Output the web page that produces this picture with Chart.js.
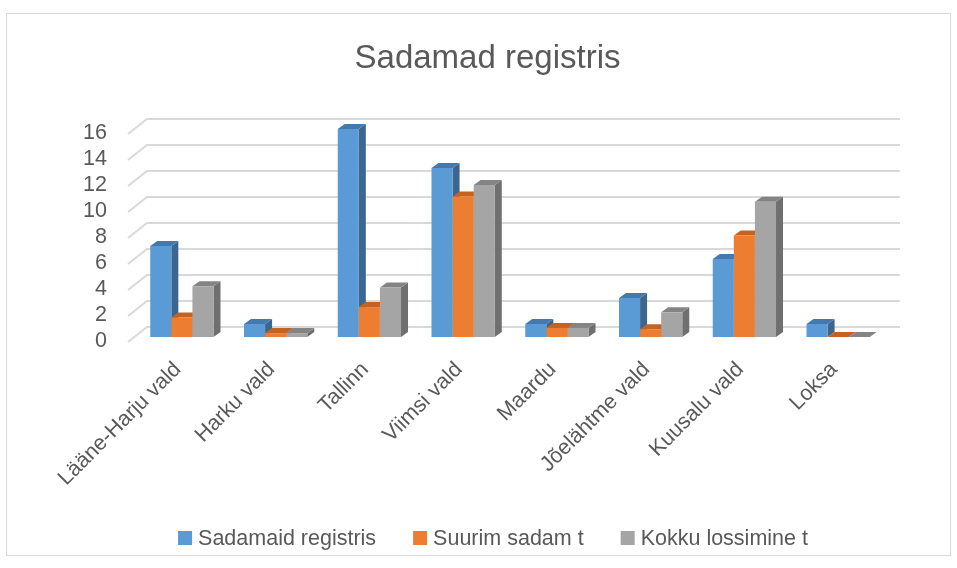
<!DOCTYPE html>
<html><head><meta charset="utf-8">
<script src="https://cdn.jsdelivr.net/npm/chart.js@4.4.1/dist/chart.umd.min.js"></script>
<style>html,body{margin:0;padding:0;background:#fff;} canvas{display:block;}</style>
</head><body>
<canvas id="c" width="957" height="568"></canvas>
<script>
const chartTitle = 'Sadamad registris';
const categories = ['Lääne-Harju vald','Harku vald','Tallinn','Viimsi vald','Maardu','Jõelähtme vald','Kuusalu vald','Loksa'];
const seriesNames = ['Sadamaid registris','Suurim sadam t','Kokku lossimine t'];
const sadamaidRegistris = [7, 1, 16, 13, 1, 3, 6, 1];
const suurimSadam = [1.5, 0.3, 2.3, 10.8, 0.7, 0.6, 7.8, 0];
const kokkuLossimine = [3.9, 0.3, 3.8, 11.7, 0.7, 1.9, 10.4, 0];
const yTicks = [0, 2, 4, 6, 8, 10, 12, 14, 16];

const FONT = "'Liberation Sans', Arial, sans-serif";
const TEXT = '#595959';
const frontCol = ['#5b9bd5', '#ed7d31', '#a5a5a5'];
const topCol = ['#4479ad', '#c4621f', '#848484'];
const sideCol = ['#3c6690', '#b05a1f', '#6f6f6f'];
const DX = 7, DY = -5;

const threeD = {
  id: 'threeD',
  beforeDraw(chart) {
    const ctx = chart.ctx;
    ctx.save();
    ctx.fillStyle = '#fff';
    ctx.fillRect(0, 0, chart.width, chart.height);
    ctx.strokeStyle = '#d9d9d9';
    ctx.lineWidth = 1;
    ctx.strokeRect(6.5, 13.5, 944, 542);
    ctx.restore();
  },
  beforeDatasetsDraw(chart) {
    const ctx = chart.ctx;
    const ys = chart.scales.y;
    const a = chart.chartArea;
    ctx.save();
    ctx.strokeStyle = '#d9d9d9';
    ctx.lineWidth = 2;
    yTicks.forEach(v => {
      const y = ys.getPixelForValue(v);
      ctx.beginPath();
      ctx.moveTo(a.left - 7, y + 5);
      ctx.lineTo(a.left + 12, y - 10);
      ctx.lineTo(a.right + 15, y - 10);
      ctx.stroke();
    });
    chart.data.datasets.forEach((ds, di) => {
      const meta = chart.getDatasetMeta(di);
      meta.data.forEach(el => {
        const p = el.getProps(['x', 'y', 'base', 'width'], true);
        const l = p.x - p.width / 2, r = p.x + p.width / 2;
        const top = Math.min(p.y, p.base), base = Math.max(p.y, p.base);
        ctx.fillStyle = sideCol[di];
        ctx.beginPath();
        ctx.moveTo(r, top); ctx.lineTo(r + DX, top + DY); ctx.lineTo(r + DX, base + DY); ctx.lineTo(r, base);
        ctx.closePath(); ctx.fill();
        ctx.fillStyle = topCol[di];
        ctx.beginPath();
        ctx.moveTo(l, top); ctx.lineTo(l + DX, top + DY); ctx.lineTo(r + DX, top + DY); ctx.lineTo(r, top);
        ctx.closePath(); ctx.fill();
      });
    });
    ctx.restore();
  },
  afterDraw(chart) {
    const ctx = chart.ctx;
    ctx.save();
    ctx.fillStyle = TEXT;
    ctx.textBaseline = 'middle';
    ctx.textAlign = 'center';
    ctx.font = '33px ' + FONT;
    ctx.fillText(chartTitle, 487.5, 59);
    // legend
    ctx.font = '21.5px ' + FONT;
    ctx.textAlign = 'left';
    const box = 14, gapText = 6, gapItem = 37;
    const widths = chart.data.datasets.map(d => ctx.measureText(d.label).width);
    const total = widths.reduce((s, w) => s + box + gapText + w, 0) + gapItem * (widths.length - 1);
    let x = 493 - total / 2;
    const yc = 538;
    chart.data.datasets.forEach((d, i) => {
      ctx.fillStyle = frontCol[i];
      ctx.fillRect(x, yc - box / 2, box, box);
      ctx.fillStyle = TEXT;
      ctx.fillText(d.label, x + box + gapText, yc + 1);
      x += box + gapText + widths[i] + gapItem;
    });
    ctx.restore();
  }
};

new Chart(document.getElementById('c'), {
  type: 'bar',
  data: {
    labels: categories,
    datasets: [
      { label: seriesNames[0], data: sadamaidRegistris, backgroundColor: frontCol[0] },
      { label: seriesNames[1], data: suurimSadam, backgroundColor: frontCol[1] },
      { label: seriesNames[2], data: kokkuLossimine, backgroundColor: frontCol[2] }
    ]
  },
  options: {
    responsive: false,
    animation: false,
    devicePixelRatio: 1,
    layout: { padding: { top: 129, right: 72, left: 0, bottom: 0 } },
    datasets: { bar: { categoryPercentage: 0.675, barPercentage: 1.0, borderWidth: 0 } },
    plugins: { legend: { display: false }, title: { display: false }, tooltip: { enabled: false } },
    scales: {
      x: {
        grid: { display: false, drawTicks: false },
        border: { display: false },
        ticks: { maxRotation: 45, minRotation: 45, autoSkip: false, color: TEXT, font: { family: FONT, size: 21.5 }, padding: 20, labelOffset: -4 },
        afterFit(s) { s.height = 231; }
      },
      y: {
        min: 0, max: 16,
        grid: { display: false, drawTicks: false },
        border: { display: false },
        afterBuildTicks(s) { s.ticks = yTicks.map(v => ({ value: v })); },
        ticks: { autoSkip: false, color: TEXT, font: { family: FONT, size: 21.5 }, padding: 28, labelOffset: 4 },
        afterFit(s) { s.width = 135; }
      }
    }
  },
  plugins: [threeD]
});
</script>
</body></html>
